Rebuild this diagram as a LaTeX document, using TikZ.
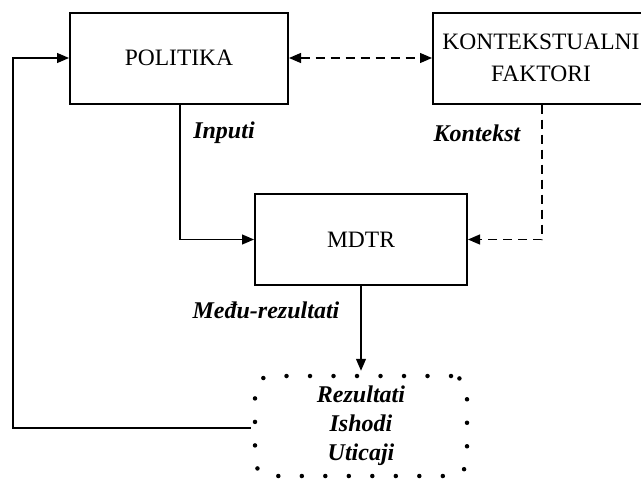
\documentclass[tikz,border=0pt]{standalone}
\usepackage{fontspec}
\setmainfont{Liberation Serif}
\usetikzlibrary{arrows.meta}
\begin{document}
\begin{tikzpicture}[x=1pt,y=-1pt,
  txt/.style={font=\fontsize{23.5}{32}\selectfont},
  lbl/.style={font=\fontsize{24}{29}\selectfont\bfseries\itshape},
  block/.style={draw, line width=2pt, minimum height=91pt, inner sep=0pt, align=center, txt},
  conn/.style={line width=1.3pt, -{Triangle[length=12pt,width=10pt]}},
  dconn/.style={conn, dash pattern=on 9pt off 6pt},
  cloudbox/.style={draw, line width=4.5pt, line cap=round, dash pattern=on 0pt off 23.5pt,
    rounded corners=16pt, minimum width=212pt, minimum height=100pt, inner sep=0pt, lbl}]
\useasboundingbox (0,0) rectangle (641,479);
\clip (0,0) rectangle (641,479);

\node[block, minimum width=218pt] (pol) at (179,58) {POLITIKA};
\node[block, minimum width=216pt] (kon) at (541,58) {KONTEKSTUALNI\\FAKTORI};
\node[block, minimum width=212pt] (mdtr) at (361,239.5) {MDTR};
\node[cloudbox] (res) at (361,426)
  {\raisebox{-3pt}{\begin{tabular}{@{}c@{}}Rezultati\\Ishodi\\Uticaji\end{tabular}}};

\node[lbl] (inp) at (224,133) {Inputi};
\node[lbl] (ktx) at (477,133) {Kontekst};
\node[lbl] (medj) at (266,310) {Među-rezultati};

\coordinate (kx) at (542,0);
\coordinate (px) at (180,0);
\coordinate (fb) at (13,0);
\coordinate (fbstart) at ([xshift=-2pt,yshift=-2pt]res.west);

\draw[dconn, {Triangle[length=12pt,width=10pt]}-{Triangle[length=12pt,width=10pt]}] (pol.east) -- (kon.west);
\draw[dconn] (kx |- kon.south) -- (kx |- mdtr.east) -- (mdtr.east);
\draw[conn] (px |- pol.south) -- (px |- mdtr.west) -- (mdtr.west);
\draw[conn] (mdtr.south) -- ([yshift=3pt]res.north);
\draw[conn] (fbstart) -- (fb |- fbstart) -- (fb |- pol.west) -- (pol.west);
\end{tikzpicture}
\end{document}
